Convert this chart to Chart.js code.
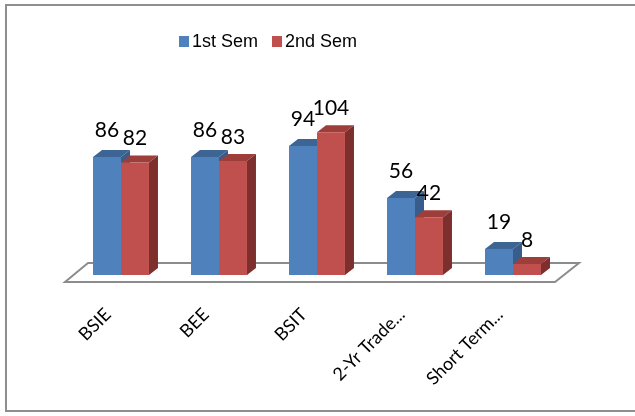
<!DOCTYPE html>
<html>
<head>
<meta charset="utf-8">
<script src="https://cdn.jsdelivr.net/npm/chart.js@4"></script>
<style>
  html, body { margin: 0; padding: 0; background: #fff; overflow: hidden; }
  #wrap { position: relative; width: 635px; height: 416px; overflow: hidden; }
  #frame { position: absolute; left: 5px; top: 4px; width: 640px; height: 408px; border: 2px solid #8e8e8e; border-right: none; box-sizing: border-box; }
  #legend { position: absolute; left: 179px; top: 31px; display: flex; font: 18px "Liberation Sans", Arial, sans-serif; line-height: 20px; color: #000; }
  .item { display: flex; align-items: center; margin-right: 14px; }
  .box { width: 10px; height: 11px; margin-right: 3px; }
  canvas { position: absolute; left: 0; top: 0; }
</style>
</head>
<body>
<div id="wrap">
  <div id="frame"></div>
  <canvas id="grafico" width="635" height="416"></canvas>
  <div id="legend"></div>
</div>
<script>
var categorias = ["BSIE", "BEE", "BSIT", "2-Yr Trade...", "Short Term..."];
var sem1 = [86, 86, 94, 56, 19];
var sem2 = [82, 83, 104, 42, 8];
var nomesSeries = ["1st Sem", "2nd Sem"];

// cores: frente, topo, lateral
var corFrente = ["#4F81BD", "#C0504D"];
var corTopo = ["#3D6594", "#9E3E3B"];
var corLado = ["#385D8A", "#7D2F2D"];
var folgaRotulo = [13, 10];

var DX = 9, DY = 7;

const efeito3d = {
    id: 'efeito3d',
    beforeDatasetsDraw(chart) {
        const ctx = chart.ctx;
        const area = chart.chartArea;
        const base = chart.scales.y.getPixelForValue(0);

        // piso
        ctx.save();
        ctx.beginPath();
        ctx.moveTo(area.left - 7, base + 7);
        ctx.lineTo(area.right - 7, base + 7);
        ctx.lineTo(area.right + 17, base - 12);
        ctx.lineTo(area.left + 16, base - 12);
        ctx.closePath();
        ctx.fillStyle = "#ffffff";
        ctx.fill();
        ctx.lineWidth = 2;
        ctx.strokeStyle = "#8c8c8c";
        ctx.stroke();

        // topo e lateral das barras
        for (var i = 0; i < categorias.length; i++) {
            for (var d = 0; d < chart.data.datasets.length; d++) {
                const bar = chart.getDatasetMeta(d).data[i];
                const p = bar.getProps(['x', 'y', 'base', 'width'], true);
                const esq = p.x - p.width / 2;
                const dir = p.x + p.width / 2;

                ctx.beginPath();
                ctx.moveTo(esq, p.y);
                ctx.lineTo(esq + DX, p.y - DY);
                ctx.lineTo(dir + DX, p.y - DY);
                ctx.lineTo(dir, p.y);
                ctx.closePath();
                ctx.fillStyle = corTopo[d];
                ctx.fill();

                ctx.beginPath();
                ctx.moveTo(dir, p.y);
                ctx.lineTo(dir + DX, p.y - DY);
                ctx.lineTo(dir + DX, p.base - DY);
                ctx.lineTo(dir, p.base);
                ctx.closePath();
                ctx.fillStyle = corLado[d];
                ctx.fill();
            }
        }
        ctx.restore();
    },
    afterDatasetsDraw(chart) {
        const ctx = chart.ctx;
        ctx.save();
        ctx.font = "21px Lato";
        ctx.fillStyle = "#000";
        ctx.textAlign = "center";
        ctx.textBaseline = "alphabetic";
        for (var d = 0; d < chart.data.datasets.length; d++) {
            const meta = chart.getDatasetMeta(d);
            meta.data.forEach(function (bar, i) {
                const p = bar.getProps(['x', 'y'], true);
                ctx.fillText(chart.data.datasets[d].data[i], p.x, p.y - DY - folgaRotulo[d]);
            });
        }
        ctx.restore();
    }
};

const data = {
    labels: categorias,
    datasets: [{
        label: nomesSeries[0],
        data: sem1,
        backgroundColor: corFrente[0],
        borderWidth: 0
    }, {
        label: nomesSeries[1],
        data: sem2,
        backgroundColor: corFrente[1],
        borderWidth: 0
    }]
};

const config = {
    type: 'bar',
    data: data,
    options: {
        responsive: false,
        animation: false,
        categoryPercentage: 0.571,
        barPercentage: 1.0,
        layout: {
            padding: { left: 72, right: 73, top: 69, bottom: 5 }
        },
        plugins: {
            legend: { display: false },
            tooltip: { enabled: false }
        },
        scales: {
            x: {
                grid: { display: false, drawTicks: false },
                border: { display: false },
                ticks: {
                    color: "#000",
                    font: { family: "Lato", size: 18 },
                    minRotation: 45,
                    maxRotation: 45,
                    labelOffset: -13,
                    padding: 29,
                    autoSkip: false
                },
                afterFit: function (scale) { scale.height = 136; }
            },
            y: {
                display: false,
                min: 0,
                max: 150
            }
        }
    },
    plugins: [efeito3d]
};

var myChart = new Chart(document.querySelector('#grafico'), config);

// legenda em HTML
const legenda = document.querySelector('#legend');
data.datasets.forEach(function (ds) {
    const item = document.createElement("div");
    item.className = "item";
    const caixa = document.createElement("span");
    caixa.className = "box";
    caixa.style.backgroundColor = ds.backgroundColor;
    const texto = document.createElement("span");
    texto.innerHTML = ds.label;
    item.append(caixa);
    item.append(texto);
    legenda.append(item);
});
</script>
</body>
</html>
